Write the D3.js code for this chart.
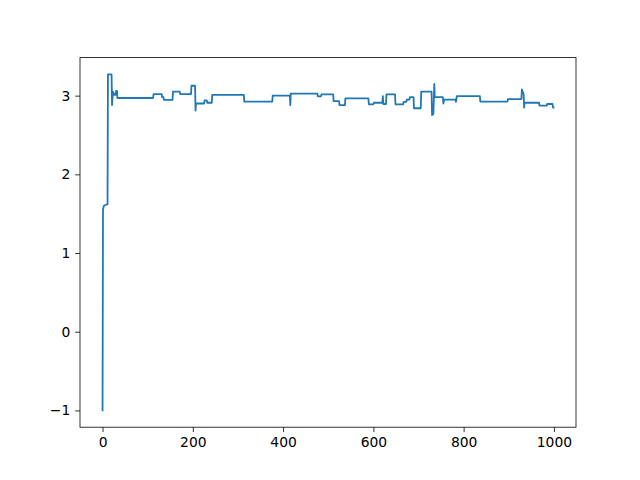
<!DOCTYPE html>
<html><head><meta charset="utf-8">
<script src="https://cdn.jsdelivr.net/npm/d3@7"></script>
<style>body{margin:0;background:#fff}svg text{font-family:"DejaVu Sans";}</style>
</head><body><svg id="c" width="640" height="480"></svg>
<script>
const xs = [0,1,3,10,11,12,20,21,23,26,29,30,32,33,112,113,131,132,135,136,155,156,171,172,196,197,205,206,207,225,226,231,232,242,243,313,314,376,377,415,416,417,476,477,484,485,511,512,524,525,537,538,589,590,600,601,620,621,622,628,629,648,649,666,667,673,674,680,681,689,690,705,706,729,730,733,735,736,754,755,757,782,783,785,836,837,897,898,928,929,931,933,934,935,967,968,984,985,997,998,999];
const ys = [-1,1.55,1.60,1.62,1.62,3.27,3.27,2.88,3.05,3.01,3.01,3.06,3.06,2.97,2.97,3.02,3.02,2.98,2.98,2.945,2.945,3.05,3.05,3.02,3.02,3.126,3.126,2.81,2.90,2.90,2.94,2.94,2.91,2.91,3.01,3.01,2.923,2.923,3.0,3.0,2.88,3.025,3.025,2.99,2.99,3.017,3.017,2.93,2.93,2.88,2.88,2.966,2.966,2.89,2.89,2.91,2.91,2.995,2.894,2.894,3.017,3.017,2.89,2.89,2.92,2.92,2.95,2.95,2.98,2.98,2.84,2.84,3.05,3.05,2.754,2.77,3.148,2.98,2.98,2.90,2.95,2.95,2.92,2.995,2.995,2.923,2.923,2.957,2.957,3.08,3.05,3.017,2.847,2.91,2.91,2.872,2.872,2.894,2.894,2.847,2.847];
const xTicks = [0,200,400,600,800,1000];
const yTicks = [-1,0,1,2,3];

const svg = d3.select("#c");
const L=80, R=576, T=57.6, B=427.2;
const xmin=d3.min(xs), xmax=d3.max(xs), ymin=d3.min(ys), ymax=d3.max(ys);
const mx=(xmax-xmin)*0.05, my=(ymax-ymin)*0.05;
const x = d3.scaleLinear().domain([xmin-mx, xmax+mx]).range([L,R]);
const y = d3.scaleLinear().domain([ymin-my, ymax+my]).range([B,T]);
const pts = xs.map((d,i)=>[d,ys[i]]);

svg.append("path").datum(pts)
  .attr("fill","none").attr("stroke","#1f77b4").style("stroke-width","1.8px")
  .attr("stroke-linejoin","round").attr("stroke-linecap","square")
  .attr("d", d3.line().x(d=>x(d[0])).y(d=>y(d[1])));

const fs = 13.89, tl = 4.86;
const xa = svg.append("g").attr("transform",`translate(0,${B})`)
  .call(d3.axisBottom(x).tickValues(xTicks).tickSize(tl).tickPadding(4.86).tickFormat(d3.format("d")));
const ya = svg.append("g").attr("transform",`translate(${L},0)`)
  .call(d3.axisLeft(y).tickValues(yTicks).tickSize(tl).tickPadding(4.86).tickFormat(d=>d<0?"\u2212"+Math.abs(d):String(d)));
[xa,ya].forEach(a=>{
  a.select(".domain").remove();
  a.selectAll(".tick line").attr("stroke","#000").attr("stroke-width",0.8);
  a.selectAll(".tick text").attr("fill","#000").style("font-size",fs+"px").style("font-family","DejaVu Sans");
});
svg.append("rect").attr("x",L).attr("y",T).attr("width",R-L).attr("height",B-T)
  .attr("fill","none").attr("stroke","#000").attr("stroke-width",0.8);
</script></body></html>
